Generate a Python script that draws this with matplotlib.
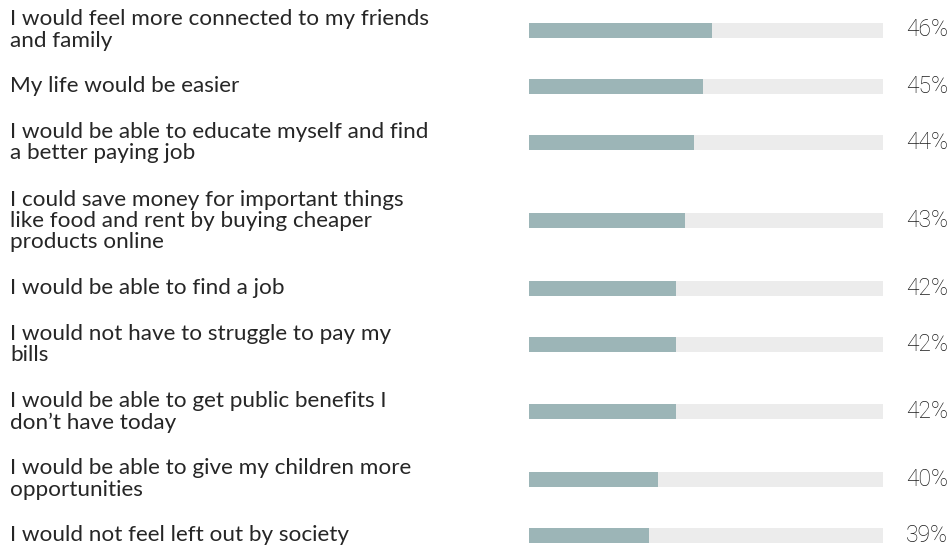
import matplotlib.pyplot as plt
import matplotlib.transforms as mtransforms

statements = [
    "I would feel more connected to my friends\nand family",
    "My life would be easier",
    "I would be able to educate myself and find\na better paying job",
    "I could save money for important things\nlike food and rent by buying cheaper\nproducts online",
    "I would be able to find a job",
    "I would not have to struggle to pay my\nbills",
    "I would be able to get public benefits I\ndon\u2019t have today",
    "I would be able to give my children more\nopportunities",
    "I would not feel left out by society",
]
shares = [46, 45, 44, 43, 42, 42, 42, 40, 39]

scale_lo, scale_hi = 25.6, 65.0

BAR = "#9cb5b7"
TRACK = "#ececec"
TEXT = "#262626"

W, H = 953, 548
fig = plt.figure(figsize=(W / 100, H / 100), dpi=100)
ax = fig.add_axes([529 / W, 0, (883 - 529) / W, 1])

# rows get taller with the number of wrapped lines in each statement
line_h, pad = 22.0, 23.3
n_lines = [s.count("\n") + 1 for s in statements]
rows = [30.0]
for a, b in zip(n_lines[:-1], n_lines[1:]):
    rows.append(rows[-1] + line_h * (a + b) / 2 + pad)

ax.set_xlim(scale_lo, scale_hi)
ax.set_ylim(H, 0)
ax.axis("off")

bar_h = 15
ax.barh(rows, [scale_hi - scale_lo] * len(rows), left=scale_lo, height=bar_h,
        color=TRACK, linewidth=0)
ax.barh(rows, [v - scale_lo for v in shares], left=scale_lo, height=bar_h,
        color=BAR, linewidth=0)

trans = mtransforms.blended_transform_factory(fig.transFigure, ax.transData)
for y, s, v in zip(rows, statements, shares):
    ax.text(10 / W, y, s, transform=trans, ha="left", va="center",
            fontsize=16.2, family="Lato", color=TEXT, linespacing=1.08)
    ax.text(948 / W, y, f"{v}%", transform=trans, ha="right", va="center",
            fontsize=16.5, family="Roboto", fontweight="light", color="#1a1a1a")

fig.savefig("out.png", dpi=100)
